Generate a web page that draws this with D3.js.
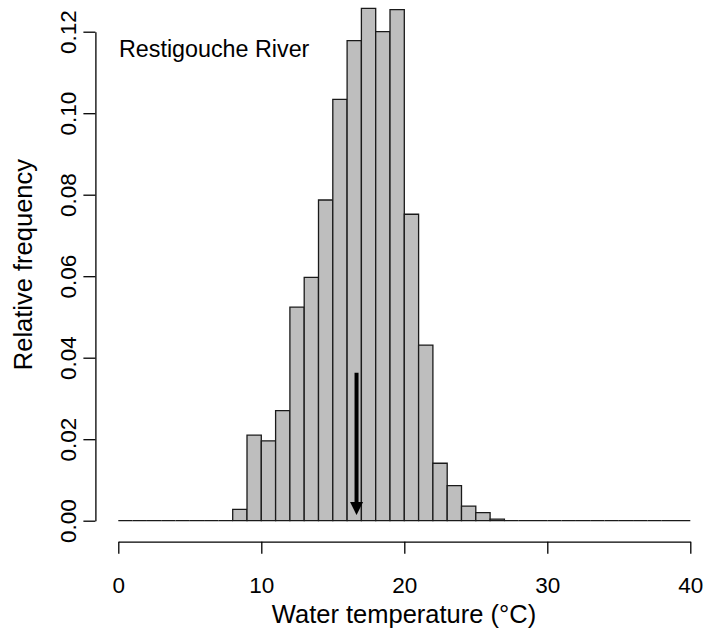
<!DOCTYPE html>
<meta charset="UTF-8">
<style>
body { margin: 0; background: #fff; }
svg { font-family: "Liberation Sans", Arial, sans-serif; }
.bar { fill: #bebebe; stroke: #1a1a1a; stroke-width: 1.3px; }
.axis path, .axis line { stroke: #000; stroke-width: 1.3px; }
.axis text { font-size: 22.5px; fill: #000; }
</style>
<body>
<script src="https://d3js.org/d3.v7.min.js"></script>
<script>

// histogram bins (1 degree wide), relative frequency per bin
var binStart = d3.range(0, 40);
var relFreq = [
  0, 0, 0, 0, 0, 0, 0, 0,
  0.0028, 0.0210, 0.0196, 0.0270, 0.0524, 0.0597, 0.0787, 0.1034,
  0.1178, 0.1257, 0.1200, 0.1254, 0.0752, 0.0431, 0.0141, 0.0086,
  0.0036, 0.0020, 0.0004,
  0, 0, 0, 0, 0, 0, 0, 0, 0, 0, 0, 0, 0
];
var xTicks = [0, 10, 20, 30, 40];
var yTicks = [0, 0.02, 0.04, 0.06, 0.08, 0.10, 0.12];
// arrow: mean temperature marker
var arrowX = 16.66;
var arrowFrom = 0.0363, arrowTo = 0.0014;

var width = 705, height = 634;

var x = d3.scaleLinear().domain([0, 40]).range([118.3, 690.3]);
var y = d3.scaleLinear().domain([0, 0.12]).range([520.7, 31.7]);

var svg = d3.select("body").append("svg")
    .attr("width", width)
    .attr("height", height);

// bars as closed paths so zero-height bins still show their outline
svg.selectAll("path.bar")
    .data(binStart)
  .enter().append("path")
    .attr("class", "bar")
    .attr("d", function(d, i) {
      var x0 = x(d), x1 = x(d + 1), y0 = y(0), y1 = y(relFreq[i]);
      return "M" + x0 + "," + y0 + "V" + y1 + "H" + x1 + "V" + y0 + "Z";
    });

// arrow
svg.append("line")
    .attr("x1", x(arrowX)).attr("x2", x(arrowX))
    .attr("y1", y(arrowFrom)).attr("y2", y(arrowTo) - 6)
    .attr("stroke", "#000")
    .attr("stroke-width", 4);
svg.append("path")
    .attr("d", "M" + (x(arrowX) - 6.5) + "," + (y(arrowTo) - 13) +
               " L" + (x(arrowX) + 6.5) + "," + (y(arrowTo) - 13) +
               " L" + x(arrowX) + "," + y(arrowTo) + " Z")
    .attr("fill", "#000");

// x axis
svg.append("g")
    .attr("class", "axis")
    .attr("transform", "translate(0,541.7)")
    .call(d3.axisBottom(x).tickValues(xTicks).tickSize(12).tickSizeOuter(0).tickPadding(23));

// y axis
var yAxis = svg.append("g")
    .attr("class", "axis")
    .attr("transform", "translate(95.4,0)")
    .call(d3.axisLeft(y).tickValues(yTicks).tickSize(12).tickSizeOuter(0)
      .tickFormat(d3.format(".2f")));
yAxis.selectAll("text")
    .attr("x", null).attr("dy", null)
    .attr("text-anchor", "middle")
    .attr("transform", "translate(-19,0) rotate(-90)");
svg.selectAll(".axis").attr("font-family", null).attr("font-size", null);

// titles
svg.append("text")
    .attr("x", 404).attr("y", 623)
    .attr("text-anchor", "middle")
    .style("font-size", "25.5px")
    .text("Water temperature (°C)");

svg.append("text")
    .attr("transform", "translate(32,264.6) rotate(-90)")
    .attr("text-anchor", "middle")
    .style("font-size", "25.5px")
    .text("Relative frequency");

svg.append("text")
    .attr("x", 119).attr("y", 57)
    .style("font-size", "23.3px")
    .text("Restigouche River");

</script>
</body>
